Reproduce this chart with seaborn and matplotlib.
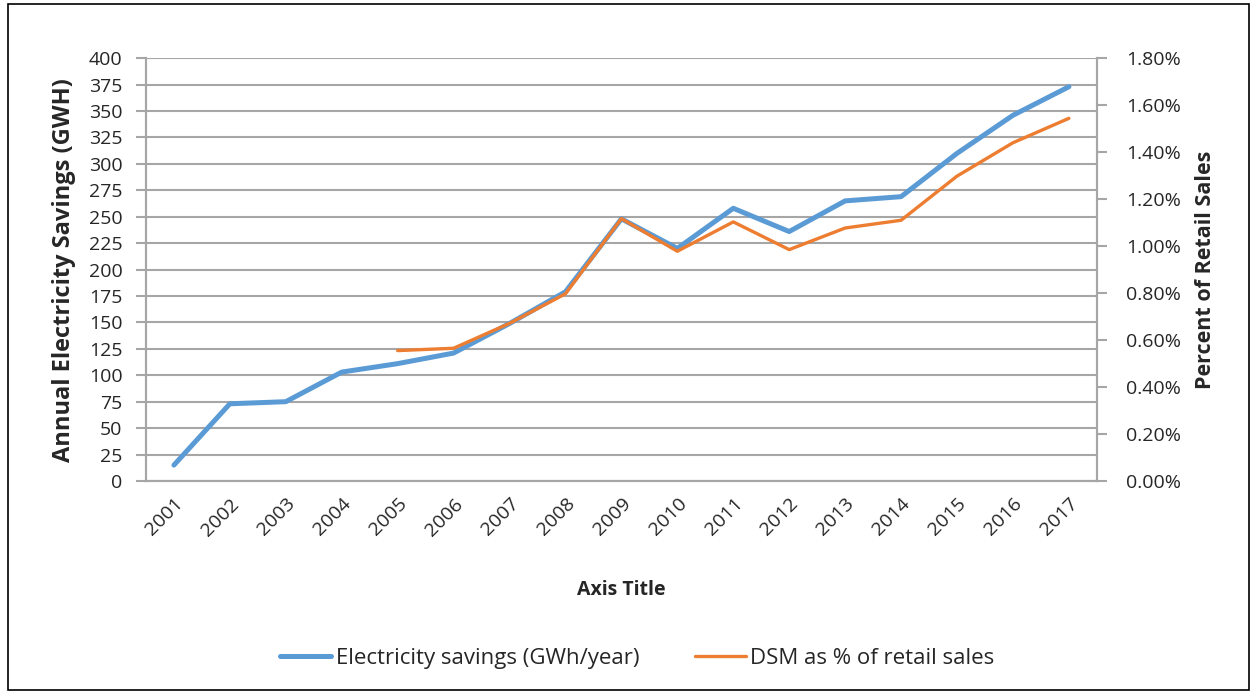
import matplotlib
matplotlib.use("Agg")
import matplotlib.pyplot as plt
import seaborn as sns
import pandas as pd
from matplotlib.ticker import FuncFormatter, MultipleLocator
from matplotlib.patches import Rectangle
from matplotlib.lines import Line2D

# --- Data ---
years = list(range(2001, 2018))
savings_gwh = [15, 73, 75, 103, 111, 121, 149, 179, 248, 220, 258, 236, 265, 269, 310, 346, 373]
dsm_years = list(range(2005, 2018))
dsm_pct = [0.555, 0.565, 0.671, 0.797, 1.117, 0.978, 1.103, 0.985, 1.077, 1.110, 1.298, 1.440, 1.544]

blue = '#5B9BD5'
orange = '#ED7D31'
grid_c = '#A6A6A6'
text_c = '#262626'

sns.set_theme(style="white")
plt.rcParams['font.family'] = ['Open Sans', 'DejaVu Sans']
plt.rcParams['text.color'] = text_c
plt.rcParams['axes.labelcolor'] = text_c
plt.rcParams['xtick.color'] = text_c
plt.rcParams['ytick.color'] = text_c

fig = plt.figure(figsize=(12.55, 6.93), dpi=100)
ax = fig.add_axes([0.1163, 0.306, 0.7577, 0.610])

df_s = pd.DataFrame({'Year': years, 'Savings': savings_gwh})
df_d = pd.DataFrame({'Year': dsm_years, 'DSM': dsm_pct})

sns.lineplot(data=df_s, x='Year', y='Savings', ax=ax, color=blue, linewidth=3.6, zorder=3)
ax.set_xlim(2000.5, 2017.5)
ax.set_ylim(0, 400)
ax.yaxis.set_major_locator(MultipleLocator(25))
ax.set_xticks(years)
ax.set_xticklabels([str(y) for y in years], rotation=45, ha='right', rotation_mode='anchor')
ax.grid(axis='y', color=grid_c, linewidth=1.5)
ax.set_axisbelow(True)
ax.set_ylabel('Annual Electricity Savings (GWH)', fontsize=17, fontweight='bold', labelpad=9)
ax.set_xlabel('Axis Title', fontsize=14, fontweight='bold', labelpad=29)
ax.tick_params(axis='y', labelsize=14, length=7, width=1.5, color=grid_c, direction='out', left=True, pad=10)
ax.tick_params(axis='x', labelsize=14, length=0, pad=10)

ax2 = ax.twinx()
sns.lineplot(data=df_d, x='Year', y='DSM', ax=ax2, color=orange, linewidth=2.4, zorder=4)
ax2.set_ylim(0, 1.8)
ax2.yaxis.set_major_locator(MultipleLocator(0.2))
ax2.yaxis.set_major_formatter(FuncFormatter(lambda v, p: f'{v:.2f}%'))
ax2.set_ylabel('Percent of Retail Sales', fontsize=15.5, fontweight='bold', labelpad=10)
ax2.tick_params(axis='y', labelsize=14, length=7, width=1.5, color=grid_c, direction='out', right=True, pad=14)
ax2.grid(False)

for a in (ax, ax2):
    a.spines['top'].set_visible(False)
    for s in ('left', 'right', 'bottom'):
        a.spines[s].set_color(grid_c)
        a.spines[s].set_linewidth(1.5)

handles = [Line2D([0], [0], color=blue, linewidth=3.6),
           Line2D([0], [0], color=orange, linewidth=2.4)]
fig.legend(handles, ['Electricity savings (GWh/year)', 'DSM as % of retail sales'],
           loc='center', bbox_to_anchor=(0.508, 0.05), ncol=2, frameon=False,
           fontsize=16, handlelength=2.3, handletextpad=0.2, columnspacing=2.5)

fig.patches.append(Rectangle((0.006, 0.004), 0.989, 0.99, transform=fig.transFigure,
                             fill=False, edgecolor='black', linewidth=1.2))

fig.savefig('out.png', dpi=100)
